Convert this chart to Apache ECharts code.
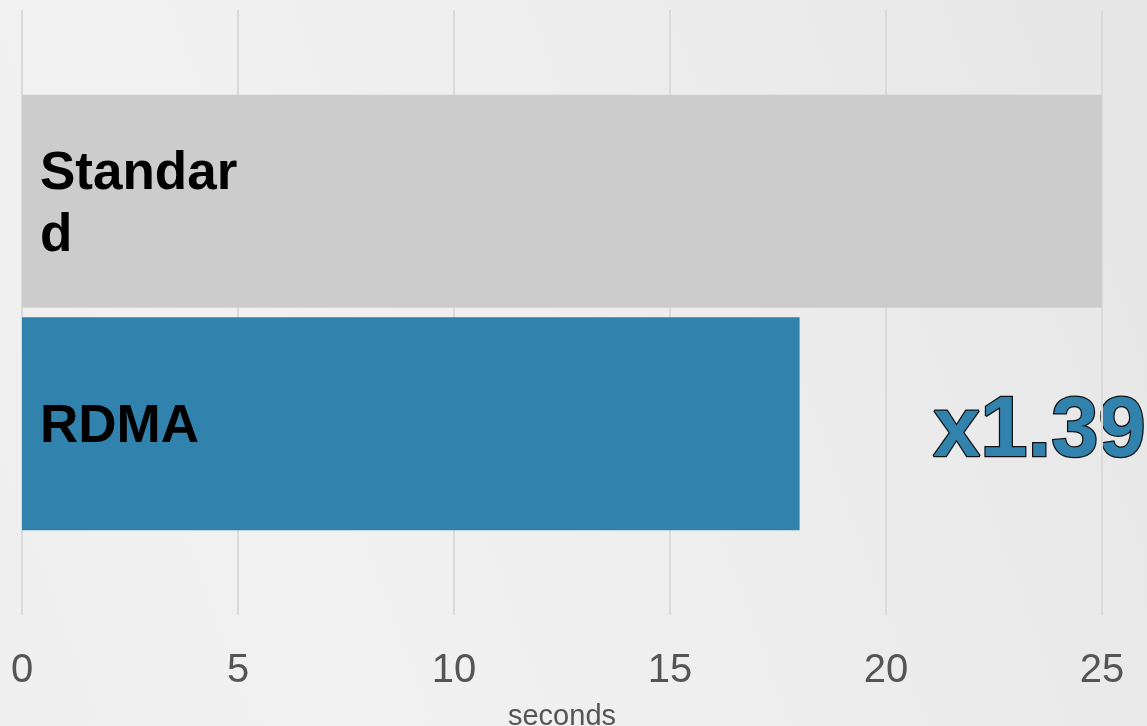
<!DOCTYPE html>
<html>
<head>
<meta charset="utf-8">
<script src="https://cdn.jsdelivr.net/npm/echarts@6/dist/echarts.min.js"></script>
<style>
html,body{margin:0;padding:0;}
#chart{width:1147px;height:726px;background:linear-gradient(250deg,#e6e6e6 0%,#eeeeee 45%,#f1f1f1 75%,#efefef 100%);}
</style>
</head>
<body>
<div id="chart"></div>
<script>
const categories = ['Standard', 'RDMA'];
const values = [25, 18];
const barColors = ['#cccccc', '#3182ac'];
const xTicks = [0, 5, 10, 15, 20, 25];
const axisName = 'seconds';

const speedup = 'x' + (values[0] / values[1]).toFixed(2);

const chart = echarts.init(document.getElementById('chart'));
const labelFont = 'Liberation Sans, Arial, sans-serif';

chart.setOption({
  animation: false,
  grid: [
    { left: 22, right: 45, top: 90, bottom: 191, outerBoundsMode: 'none', containLabel: false },
    { left: 22, right: 45, top: 10, bottom: 111, outerBoundsMode: 'none', containLabel: false }
  ],
  xAxis: [
    { gridIndex: 0, type: 'value', min: xTicks[0], max: xTicks[xTicks.length - 1], interval: 5,
      axisLine: { show: false }, axisTick: { show: false }, axisLabel: { show: false }, splitLine: { show: false } },
    { gridIndex: 1, type: 'value', min: xTicks[0], max: xTicks[xTicks.length - 1], interval: 5,
      axisLine: { show: false }, axisTick: { show: false },
      splitLine: { show: true, lineStyle: { color: '#dadada', width: 2 } },
      axisLabel: { color: '#555555', fontSize: 40, fontFamily: labelFont, margin: 36 },
      name: axisName, nameLocation: 'middle', nameGap: 87,
      nameTextStyle: { color: '#555555', fontSize: 29, fontFamily: labelFont } }
  ],
  yAxis: [
    { gridIndex: 0, type: 'category', data: categories, inverse: true, show: false },
    { gridIndex: 1, type: 'value', show: false, min: 0, max: 1 }
  ],
  series: [{
    type: 'bar',
    xAxisIndex: 0, yAxisIndex: 0,
    barWidth: 213,
    data: values.map((v, i) => ({ value: v, itemStyle: { color: barColors[i] } })),
    label: {
      show: true,
      position: 'insideLeft',
      distance: 18,
      offset: [0, 4],
      formatter: p => p.name,
      color: '#000000',
      fontSize: 53,
      fontWeight: 'bold',
      fontFamily: labelFont,
      width: 210,
      overflow: 'breakAll',
      lineHeight: 62
    }
  }],
  graphic: [{
    type: 'text',
    right: 0,
    top: 389,
    style: {
      text: speedup,
      fill: '#3182ac',
      stroke: '#111111',
      lineWidth: 2.5,
      font: 'bold 85px "Liberation Sans", Arial, sans-serif'
    }
  }]
});
</script>
</body>
</html>
